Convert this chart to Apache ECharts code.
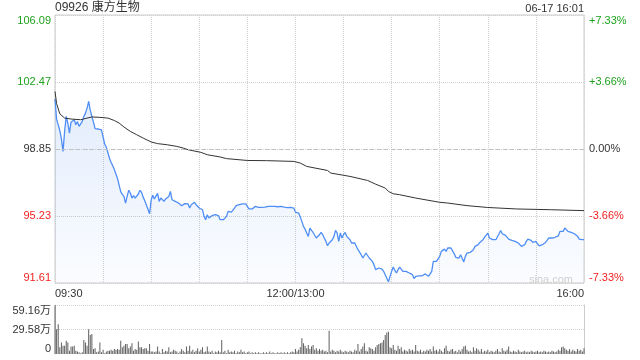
<!DOCTYPE html>
<html><head><meta charset="utf-8">
<script src="https://cdn.jsdelivr.net/npm/echarts@6/dist/echarts.min.js"></script>
<style>html,body{margin:0;padding:0;background:#fff}#c{width:640px;height:360px}</style>
</head><body><div id="c"></div>
<script>
const stockTitle = '09926 康方生物';
const stamp = '06-17 16:01';
const watermark = 'sina.com';
const preClose = 98.85;
const priceMin = 91.61, priceMax = 106.09, priceStep = 3.62;
const pctLabels = ['-7.33%', '-3.66%', '0.00%', '+3.66%', '+7.33%'];
const volMax = 59.16, volStep = 29.58;
const timeTicks = [0, 150, 330];
const timeLabels = ['09:30', '12:00/13:00', '16:00'];

// price per minute (09:30 .. 16:00, lunch removed)
const price = [
101.55,100.45,100.15,99.85,99.40,98.72,99.80,100.61,100.25,99.71,
100.30,100.25,100.43,100.16,100.34,100.07,100.16,100.34,100.61,100.79,
101.06,101.42,100.95,100.60,100.30,99.95,99.90,99.93,99.90,99.88,
99.80,99.12,98.95,98.65,98.35,98.12,97.95,97.75,97.50,97.25,
96.90,96.55,96.40,96.29,95.93,96.29,96.62,96.47,96.20,96.33,
96.20,96.29,96.42,96.62,96.50,96.25,96.05,95.95,95.60,95.35,
96.10,96.35,96.15,96.30,96.45,96.02,96.20,96.10,96.02,96.15,
96.11,96.29,96.56,96.11,96.11,96.02,95.93,95.93,95.85,95.78,
95.85,95.90,95.88,95.89,95.66,95.84,95.75,95.97,95.84,95.75,
95.66,95.66,95.57,95.21,95.03,95.30,95.12,95.21,95.25,95.21,
95.30,95.21,95.25,95.03,94.94,95.03,95.06,95.21,95.48,95.44,
95.44,95.46,95.66,95.79,95.79,95.84,95.86,95.89,95.84,95.89,
95.79,95.61,95.53,95.61,95.70,95.75,95.79,95.70,95.64,95.70,
95.73,95.71,95.73,95.75,95.73,95.75,95.73,95.75,95.72,95.73,
95.71,95.75,95.71,95.71,95.68,95.68,95.66,95.70,95.66,95.66,
95.44,95.44,95.39,95.17,94.94,94.67,94.52,94.31,94.13,94.58,
94.45,94.34,94.34,94.04,94.13,94.22,94.34,94.22,94.31,93.86,
93.62,93.77,93.80,93.95,94.13,94.45,94.31,93.86,94.31,94.04,
94.22,94.34,94.13,94.04,93.95,93.77,93.68,93.77,93.68,93.41,
93.32,93.14,92.96,93.05,93.23,93.32,92.96,92.90,92.78,92.60,
92.33,92.36,92.42,92.33,92.36,92.24,92.06,91.97,91.68,91.97,
92.24,92.47,92.29,92.15,92.33,92.47,92.36,92.24,92.15,92.24,
92.18,92.15,92.11,92.06,91.85,91.97,92.06,92.00,92.06,92.00,
92.06,92.10,92.15,91.97,92.00,92.24,92.78,92.83,92.78,92.87,
93.05,93.32,93.41,93.44,93.32,93.50,93.41,93.50,93.44,93.20,
93.00,93.05,92.96,93.14,92.95,92.75,93.05,93.23,93.26,93.26,
93.32,93.41,93.59,93.68,93.68,93.80,93.77,93.95,94.09,94.13,
94.31,94.04,93.95,93.95,93.95,93.95,94.04,94.27,94.45,94.27,
94.27,94.18,94.16,93.98,93.91,93.91,93.88,93.86,93.77,93.77,
93.68,93.59,93.59,93.68,93.86,93.98,93.91,93.91,93.80,93.77,
93.86,93.73,93.62,93.55,93.68,93.77,93.80,93.86,94.04,94.04,
94.04,94.04,94.08,94.13,94.16,94.40,94.31,94.40,94.58,94.58,
94.40,94.34,94.34,94.31,94.27,94.22,94.13,93.98,93.95,93.95,
93.95
];

// average price line, read at these minutes
const avgMinute = [0,1,3,6,10,16,20,23,28,33,37,40,43,47,51,55,60,64,70,76,80,83,91,95,103,107,120,132,149,153,157,170,172,184,195,200,206,208,211,215,225,240,245,257,270,288,309,330];
const avgPrice  = [101.96,101.30,100.75,100.52,100.47,100.43,100.52,100.58,100.56,100.52,100.39,100.25,100.04,99.80,99.62,99.44,99.23,99.14,99.08,98.99,98.90,98.81,98.67,98.54,98.42,98.33,98.23,98.22,98.18,98.09,97.91,97.69,97.55,97.37,97.15,96.95,96.74,96.56,96.43,96.38,96.20,95.97,95.93,95.79,95.69,95.61,95.57,95.52];

// volume per minute, 万
const volume = [
59,30,36,8,14,10,10,16,14,4,
9,9,10,4,3,2,1,2,17,14,
10,30,23,24,6,7,2,3,14,2,
5,1,3,4,4,5,4,6,5,6,
5,16,8,10,12,12,7,9,13,4,
6,5,15,8,8,6,7,7,4,12,
3,3,2,3,9,3,1,6,2,4,
3,8,2,3,5,4,3,1,3,6,
4,2,9,4,10,3,5,2,4,7,
3,5,8,2,3,9,3,2,4,1,
3,2,4,2,17,2,4,1,5,2,
3,2,4,1,3,2,5,2,3,1,
2,3,1,2,1,2,1,2,1,1,
2,1,2,1,3,1,2,1,1,2,
1,2,1,2,1,2,1,2,3,2,
6,3,5,8,19,13,10,7,11,6,
9,11,5,7,4,6,4,5,3,4,
2,28,3,5,4,2,4,3,5,3,
2,4,3,2,4,3,2,5,4,12,
3,6,9,13,4,3,8,7,6,4,
8,11,12,13,14,17,23,26,27,8,
7,11,5,4,10,6,8,3,5,4,
3,6,4,5,3,11,4,3,5,2,
4,3,5,4,6,3,9,4,5,3,
6,4,2,7,10,4,3,5,6,3,
4,2,5,3,6,9,10,5,3,4,
2,8,4,7,5,3,6,2,4,3,
5,2,4,3,2,4,6,3,2,7,
4,3,5,9,3,2,4,3,2,5,
3,2,3,4,2,3,2,4,3,2,
3,4,2,3,2,4,3,2,3,2,
4,3,2,3,5,4,8,9,7,5,
4,6,3,5,4,3,6,4,5,3,
7
];

const FONT = "'Liberation Sans', Arial, 'Noto Sans CJK SC', sans-serif";
const UP = '#1fa31f', DOWN = '#f22222', FLAT = '#333';
const chart = echarts.init(document.getElementById('c'), null, {renderer: 'canvas'});
const gridLine = {color: '#d0d0d0', type: 'dotted', width: 1};

chart.setOption({
  animation: false,
  textStyle: {fontFamily: FONT},
  title: {text: stockTitle, left: 55, top: 2, padding: 0,
    textStyle: {fontSize: 12, fontWeight: 'normal', color: '#333', fontFamily: FONT}},
  graphic: [
    {type: 'text', right: 56, top: 3, style: {text: stamp, fontSize: 11, fill: '#333', fontFamily: FONT}},
    {type: 'text', right: 67, top: 274, z: 100, style: {text: watermark, fontSize: 11, fill: '#cfcfcf', fontFamily: FONT}}
  ],
  grid: [
    {left: 55, right: 56, top: 15, height: 268, show: true, borderColor: '#cccccc', borderWidth: 1},
    {left: 55, right: 56, top: 305, height: 49}
  ],
  xAxis: [
    {type: 'value', gridIndex: 0, min: 0, max: 330, interval: 30,
      axisLine: {show: false}, axisTick: {show: false},
      splitLine: {show: true, lineStyle: gridLine},
      axisLabel: {fontSize: 11, color: '#333', margin: 5, fontFamily: FONT,
        alignMinLabel: 'left', alignMaxLabel: 'right',
        formatter: v => { const k = timeTicks.indexOf(Math.round(v)); return k >= 0 ? timeLabels[k] : ''; }}},
    {type: 'value', gridIndex: 1, min: 0, max: 330, show: false}
  ],
  yAxis: [
    {type: 'value', gridIndex: 0, min: priceMin, max: priceMax, interval: priceStep,
      axisLine: {show: false}, axisTick: {show: false},
      splitLine: {show: true, lineStyle: gridLine},
      axisLabel: {fontSize: 11, margin: 4, fontFamily: FONT,
        verticalAlignMinLabel: 'bottom', verticalAlignMaxLabel: 'top',
        formatter: v => v.toFixed(2),
        color: v => v > preClose + 0.01 ? UP : (v < preClose - 0.01 ? DOWN : FLAT)}},
    {type: 'value', gridIndex: 0, position: 'right', min: -7.33, max: 7.33, interval: 3.665,
      axisLine: {show: false}, axisTick: {show: false}, splitLine: {show: false},
      axisLabel: {fontSize: 11, margin: 5, fontFamily: FONT,
        verticalAlignMinLabel: 'bottom', verticalAlignMaxLabel: 'top',
        formatter: (v, i) => pctLabels[i],
        color: v => v > 0.01 ? UP : (v < -0.01 ? DOWN : FLAT)}},
    {type: 'value', gridIndex: 1, min: 0, max: volMax, interval: volStep,
      axisLine: {show: true, lineStyle: {color: '#cccccc'}}, axisTick: {show: false},
      splitLine: {show: true, showMinLine: false, lineStyle: gridLine},
      axisLabel: {fontSize: 11, margin: 4, color: '#333', fontFamily: FONT,
        verticalAlignMinLabel: 'bottom', verticalAlignMaxLabel: 'top',
        formatter: v => v === 0 ? '0' : v.toFixed(2) + '万'}},
    {type: 'value', gridIndex: 1, position: 'right', min: 0, max: volMax,
      axisLine: {show: true, lineStyle: {color: '#cccccc'}}, axisTick: {show: false},
      axisLabel: {show: false}, splitLine: {show: false}}
  ],
  series: [
    {type: 'line', xAxisIndex: 0, yAxisIndex: 0, showSymbol: false, silent: true,
      data: price.map((v, i) => [i, v]),
      lineStyle: {color: '#4f8ef5', width: 1.3},
      areaStyle: {color: new echarts.graphic.LinearGradient(0, 0, 0, 1, [
        {offset: 0, color: 'rgba(70,135,240,0.22)'},
        {offset: 1, color: 'rgba(70,135,240,0.03)'}])},
      markLine: {silent: true, symbol: 'none', label: {show: false},
        lineStyle: {color: '#c0c0c0', type: [4, 3], width: 1},
        data: [{yAxis: preClose}]}},
    {type: 'line', xAxisIndex: 0, yAxisIndex: 0, showSymbol: false, silent: true,
      data: avgMinute.map((m, k) => [m, avgPrice[k]]),
      lineStyle: {color: '#333', width: 1}},
    {type: 'bar', xAxisIndex: 1, yAxisIndex: 2, barWidth: 1, silent: true,
      data: volume.map((v, i) => [i, v]),
      itemStyle: {color: '#5f5f5f'}}
  ]
});
</script>
</body></html>
